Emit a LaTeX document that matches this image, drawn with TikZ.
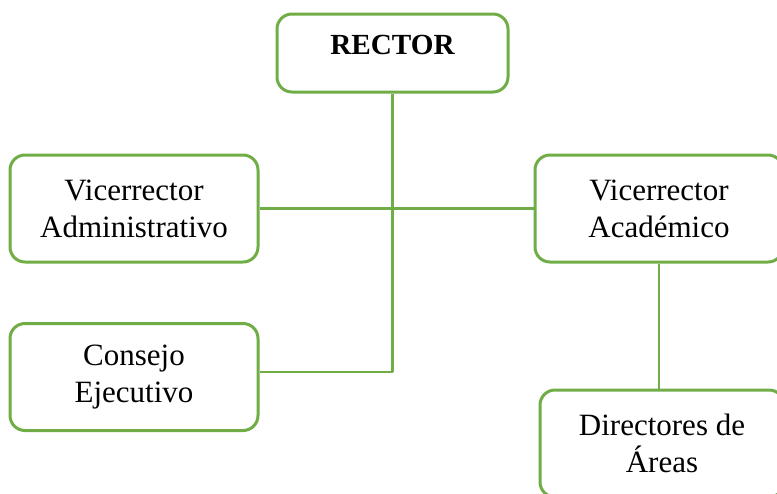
\documentclass[tikz,border=0pt]{standalone}
\usepackage{fontspec}
\setmainfont{Liberation Serif}
\usepackage{tikz}
\definecolor{boxgreen}{HTML}{70AD47}

\begin{document}
\begin{tikzpicture}[x=0.5pt,y=-0.5pt,
  cargo/.style={draw=boxgreen,line width=1.5pt,rounded corners=7.5pt,fill=white,
    align=center,minimum width=124pt,minimum height=53.5pt,inner sep=0pt,
    font=\fontsize{15.5}{18.5}\selectfont},
  enlace/.style={draw=boxgreen,line width=1.3pt}]
  \useasboundingbox (0,0) rectangle (777,493);
  \clip (0,0) rectangle (777,493);

  \node[cargo,minimum width=115.5pt,minimum height=39pt,font=\fontsize{14.6}{17}\selectfont\bfseries]
    (rector) at (392.5,53) {\raisebox{8pt}{RECTOR}};
  \node[cargo](admin) at (134,208.5) {Vicerrector\\Administrativo};
  \node[cargo,minimum width=124pt](academico) at (659,208.5) {Vicerrector\\Académico};
  \node[cargo](ejecutivo) at (134,377) {Consejo\\Ejecutivo};
  \node[cargo,minimum width=122pt](areas) at (662,443.5) {Directores de\\Áreas};
  \coordinate (tronco) at (392.5,372);

  \path[enlace]
  (rector.south) edge (tronco)
  (tronco) edge (tronco -| ejecutivo.east)
  (admin.east) edge (academico.west)
  (academico.south) edge (academico.south |- areas.north);
\end{tikzpicture}
\end{document}
